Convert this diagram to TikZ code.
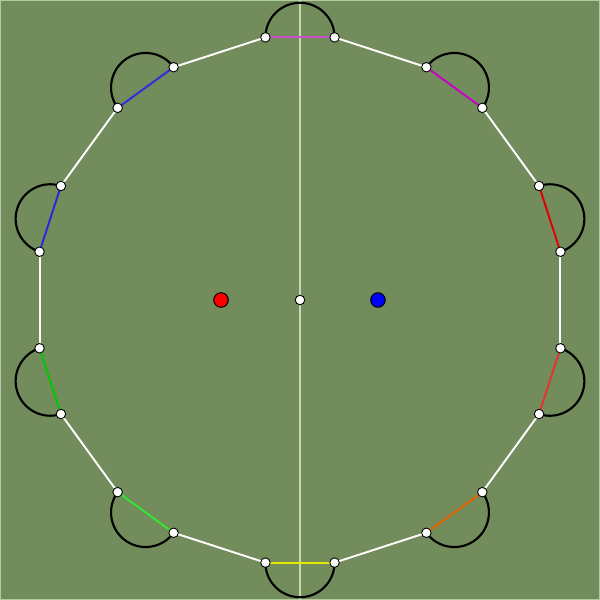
\documentclass[tikz,border=0pt]{standalone}
\usetikzlibrary{calc}
\definecolor{bg}{RGB}{114,140,92}
\definecolor{frame}{RGB}{178,202,162}
\definecolor{midline}{RGB}{198,216,184}
\definecolor{c0}{RGB}{200,80,200}
\definecolor{c1}{RGB}{200,0,200}
\definecolor{c2}{RGB}{225,0,0}
\definecolor{c3}{RGB}{230,50,50}
\definecolor{c4}{RGB}{230,100,0}
\definecolor{c5}{RGB}{230,230,0}
\definecolor{c6}{RGB}{50,230,50}
\definecolor{c7}{RGB}{0,200,0}
\definecolor{c8}{RGB}{40,40,220}
\definecolor{c9}{RGB}{45,45,225}
\tikzstyle{vertex} = [circle, draw=black, fill=white, inner sep=0pt, minimum size=0.19cm, line width=0.5pt]
\tikzstyle{charge} = [circle, draw=black, inner sep=0pt, minimum size=0.29cm, line width=0.6pt]
\tikzstyle{edge} = [draw=white, line width=1.1pt]
\tikzstyle{chord} = [line width=1.1pt]
\tikzstyle{halfdisc} = [draw=black, line width=1.2pt]

\begin{document}
\begin{tikzpicture}
	\draw[fill=bg, draw=frame, line width=0.7pt] (-5.99,-5.99) rectangle (5.99,5.99);
	\useasboundingbox (-6,-6) rectangle (6,6);
	% middle line
	\coordinate (top) at (0,6);
	\coordinate (bottom) at (0,-6);
	\draw[midline, line width=1pt] (top) -- (bottom);
	% end points of the chords
	\foreach \i in {0,...,9}{
		\coordinate (a\i) at ({90-36*\i+7.5}:5.3);
		\coordinate (b\i) at ({90-36*\i-7.5}:5.3);
	}
	% white sides
	\foreach \i in {0,...,9}{
		\pgfmathtruncatemacro\j{mod(\i+1,10)}
		\draw[edge] (b\i) -- (a\j);
	}
	% chords and half circles
	\foreach \i in {0,...,9}{
		\draw[chord, c\i] (a\i) -- (b\i);
		\draw[halfdisc] (a\i) arc[start angle={180-36*\i}, end angle={-36*\i}, radius=0.692];
	}
	% dots
	\foreach \i in {0,...,9}{
		\node[vertex] (va\i) at (a\i) {};
		\node[vertex] (vb\i) at (b\i) {};
	}
	\node[vertex] (o) at (0,0) {};
	\node[charge, fill=red] (neg) at (-1.58,0) {};
	\node[charge, fill=blue] (pos) at (1.56,0) {};
\end{tikzpicture}
\end{document}
